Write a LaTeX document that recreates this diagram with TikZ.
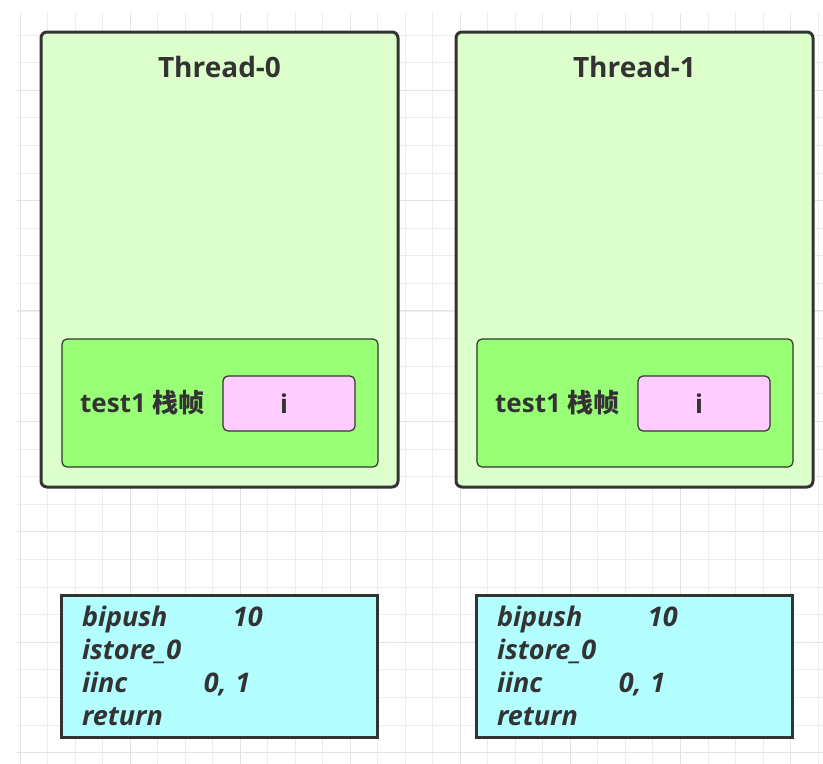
\documentclass[tikz,border=0pt]{standalone}
\usepackage{fontspec}
\setmainfont{Open Sans}
\newfontfamily\cjk{Noto Sans CJK SC}
\usetikzlibrary{positioning}

\definecolor{threadfill}{HTML}{DDFFCC}
\definecolor{framefill}{HTML}{99FF77}
\definecolor{slotfill}{HTML}{FFCCFF}
\definecolor{codefill}{HTML}{B3FFFF}
\definecolor{edgegray}{HTML}{333333}
\definecolor{textgray}{HTML}{333333}

\tikzset{
  threadbox/.style={draw=edgegray, line width=3pt, fill=threadfill, rounded corners=6pt,
    minimum width=357pt, minimum height=455pt, inner sep=0pt},
  framebox/.style={draw=edgegray, line width=1.2pt, fill=framefill, rounded corners=5pt,
    minimum width=316pt, minimum height=128pt, inner sep=0pt},
  slotbox/.style={draw=edgegray, line width=1.2pt, fill=slotfill, rounded corners=5pt,
    minimum width=132pt, minimum height=55pt, inner sep=0pt,
    font=\fontsize{26}{30}\selectfont\bfseries, text=textgray},
  codebox/.style={draw=edgegray, line width=3pt, fill=codefill,
    minimum width=316pt, minimum height=142pt, inner xsep=21pt, inner ysep=0pt,
    text width=274pt, align=left, text=textgray,
    font=\fontsize{27}{33}\selectfont\bfseries\itshape},
  titletext/.style={font=\fontsize{28}{32}\selectfont\bfseries, text=textgray},
  frametext/.style={font=\fontsize{26}{30}\selectfont\bfseries, text=textgray},
}

\begin{document}
\begin{tikzpicture}[x=1pt, y=-1pt]
  % background and grid
  \fill[white] (0,0) rectangle (823,764);
  \useasboundingbox (0,0) rectangle (823,764);
  \foreach \k in {0,...,29}
    \draw[gray!14, line width=1pt] (20+27.52*\k,13) -- (20+27.52*\k,764);
  \foreach \k in {0,...,26}
    \draw[gray!14, line width=1pt] (17,35+27.6*\k) -- (823,35+27.6*\k);
  \foreach \k in {0,4,...,28}
    \draw[gray!22, line width=1pt] (20+27.52*\k,13) -- (20+27.52*\k,764);
  \foreach \k in {0,4,...,24}
    \draw[gray!22, line width=1pt] (17,90+27.6*\k) -- (823,90+27.6*\k);

  % threads with their stack frame and bytecode
  \foreach \i in {0,1} {
    \node[threadbox] (thread\i) at (219.5+415*\i,259.5) {};
    \node[titletext] (name\i) at (219.5+415*\i,67) {Thread-\i};
    \node[framebox] (frame\i) at (220+415*\i,403) {};
    \node[slotbox] (slot\i) at (289+415*\i,403.5) {\hspace*{-10pt}i};
    \node[frametext, anchor=west, inner sep=0pt] (label\i) at (80+415*\i,403)
      {test1 {\cjk\bfseries 栈帧}};
    \node[codebox] (code\i) at (219+415*\i,666) {%
      \makebox[151pt][l]{bipush}10\\
      istore\_0\\
      \makebox[122pt][l]{iinc}0, 1\\
      return};
  }
\end{tikzpicture}
\end{document}
